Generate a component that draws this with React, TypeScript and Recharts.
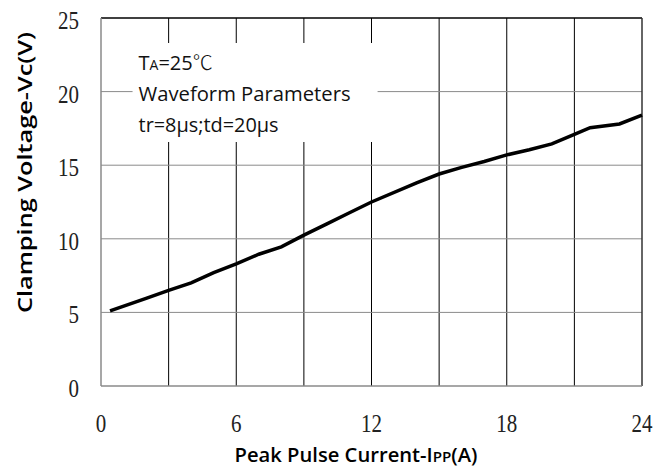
import { LineChart, Line, XAxis, YAxis, CartesianGrid, ReferenceArea, ReferenceLine, Label } from 'recharts';

const current = [0.4, 2, 3, 4, 5, 6, 7, 8, 9, 10, 11, 12, 14, 15, 16, 17, 18, 19, 20, 21, 21.7, 23, 24];
const voltage = [5.1, 5.95, 6.5, 7.0, 7.7, 8.3, 8.95, 9.45, 10.25, 11.0, 11.75, 12.5, 13.8, 14.4, 14.85, 15.25, 15.7, 16.05, 16.45, 17.1, 17.55, 17.8, 18.4];
const xTicks = [0, 6, 12, 18, 24];
const yTicks = [0, 5, 10, 15, 20, 25];
const xGrid = [3, 6, 9, 12, 15, 18, 21];
const yGrid = [5, 10, 15, 20];

const data = current.map((x, i) => ({ x, v: voltage[i] }));

const sans = '"Open Sans", "Noto Sans", sans-serif';
const serif = '"Liberation Serif", "DejaVu Serif", serif';

const XTick = ({ x, y, payload }: any) => {
  const s = String(payload.value);
  return (
    <text x={x} y={y + 46} textAnchor="middle" fontFamily={serif} fontSize={25} fill="#222"
      textLength={s.length * 10.5} lengthAdjust="spacingAndGlyphs">{s}</text>
  );
};

const YTick = ({ x, y, payload }: any) => {
  const s = String(payload.value);
  return (
    <text x={x} y={y + 11} textAnchor="end" fontFamily={serif} fontSize={25} fill="#222"
      textLength={s.length * 10.5} lengthAdjust="spacingAndGlyphs">{s}</text>
  );
};

const Note = ({ viewBox }: any) => {
  const x = viewBox.x + 6;
  const y = viewBox.y;
  return (
    <g fontFamily={sans} fontSize={20} fill="#111">
      <text x={x} y={y + 27}>
        T<tspan fontSize={14}>A</tspan>=25<tspan fontFamily='"Noto Sans CJK SC"' fontWeight={300}>℃</tspan>
      </text>
      <text x={x} y={y + 57.7} textLength={212} lengthAdjust="spacingAndGlyphs">Waveform Parameters</text>
      <text x={x} y={y + 88.7} textLength={140} lengthAdjust="spacingAndGlyphs">tr=8μs;td=20μs</text>
    </g>
  );
};

const XTitle = ({ viewBox }: any) => (
  <text x={viewBox.x + 255} y={viewBox.y + 75.5} textAnchor="middle" fontFamily={sans} fontWeight={600}
    fontSize={20} fill="#000" textLength={243} lengthAdjust="spacingAndGlyphs">
    Peak Pulse Current-I<tspan fontSize={15}>PP</tspan>(A)
  </text>
);

const YTitle = ({ viewBox }: any) => {
  const cx = viewBox.x + 31.7;
  const cy = 172.5;
  return (
    <text x={cx} y={cy} transform={`rotate(-90, ${cx}, ${cy})`} textAnchor="middle" fontFamily={sans}
      fontWeight={600} fontSize={20} fill="#000" textLength={281} lengthAdjust="spacingAndGlyphs">
      Clamping Voltage-Vc(V)
    </text>
  );
};

export default function App() {
  return (
    <div style={{ position: 'absolute', left: 0, top: 0, width: 654, height: 466, background: '#fff' }}>
      <LineChart width={654} height={466} data={data} margin={{ top: 18, right: 12, left: 0, bottom: 0 }}>
        <CartesianGrid horizontal={false} verticalValues={xGrid} stroke="#000" strokeWidth={1} />
        <CartesianGrid vertical={false} horizontalValues={yGrid} stroke="#8a8a8a" strokeWidth={1} />
        <XAxis dataKey="x" type="number" domain={[0, 24]} ticks={xTicks} height={80} tickSize={0} tickMargin={0}
          tick={<XTick />} axisLine={{ stroke: '#8a8a8a', strokeWidth: 1.5 }} tickLine={false}>
          <Label content={<XTitle />} />
        </XAxis>
        <YAxis type="number" domain={[0, 25]} ticks={yTicks} width={101} tickSize={0} tickMargin={22}
          tick={<YTick />} axisLine={{ stroke: '#8a8a8a', strokeWidth: 1.5 }} tickLine={false}>
          <Label content={<YTitle />} />
        </YAxis>
        <ReferenceLine y={25} stroke="#000" strokeWidth={1.5} />
        <ReferenceLine x={24} stroke="#333" strokeWidth={1.5} />
        <ReferenceArea x1={1.4} x2={12.27} y1={16.58} y2={23.3} fill="#fff" fillOpacity={1} stroke="none"
          label={<Note />} />
        <Line type="linear" dataKey="v" stroke="#000" strokeWidth={3.5} dot={false} isAnimationActive={false} />
      </LineChart>
    </div>
  );
}
